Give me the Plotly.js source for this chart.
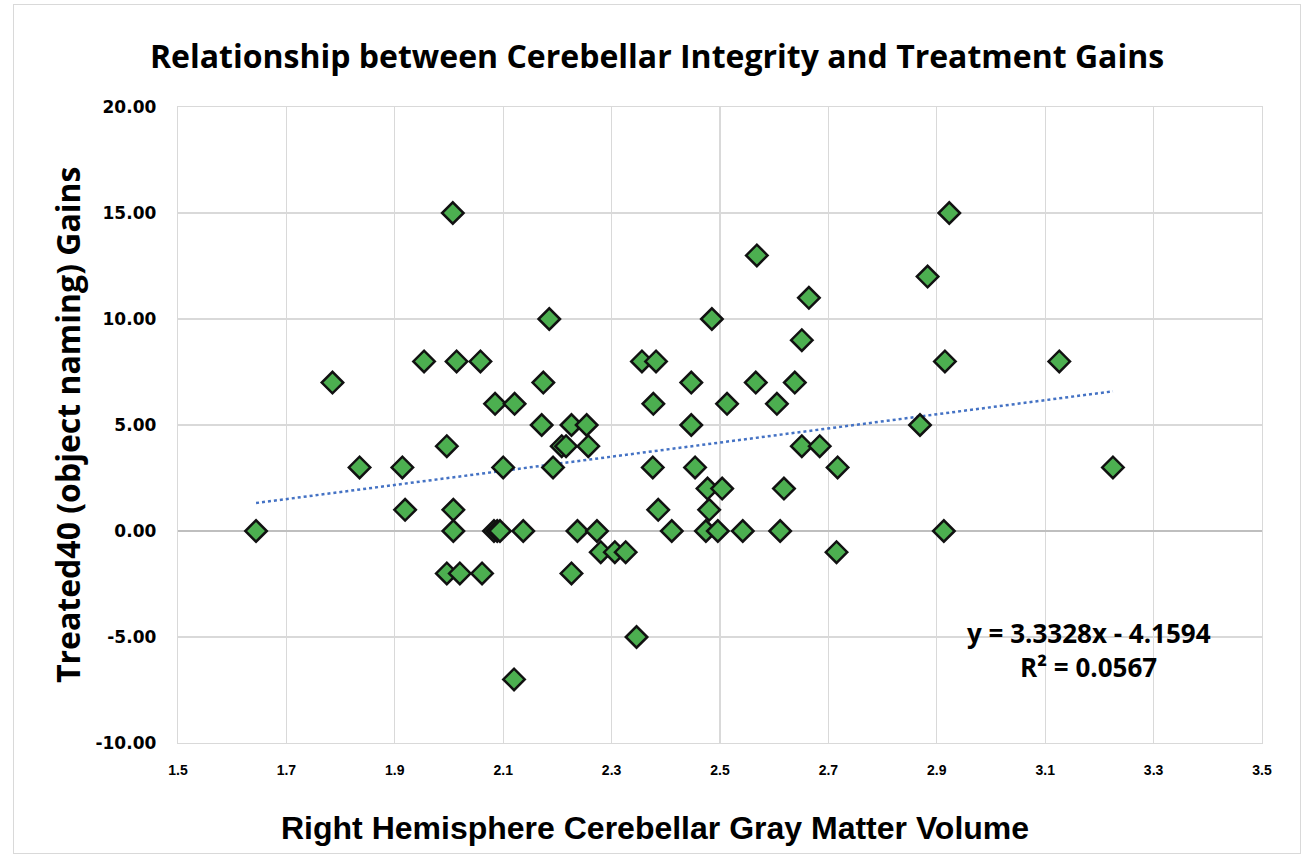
<!DOCTYPE html>
<html>
<head>
<meta charset="utf-8">
<script src="https://cdn.plot.ly/plotly-3.0.1.min.js"></script>
<style>
  html, body { margin: 0; padding: 0; background: #ffffff; }
  #chart { position: absolute; left: 0; top: 0; width: 1314px; height: 865px; }
  #frame { position: absolute; left: 13px; top: 4px; width: 1286px; height: 848px;
           border: 1.5px solid #d9d9d9; pointer-events: none; }
</style>
</head>
<body>
<div id="chart"></div>
<div id="frame"></div>
<script>
// Right hemisphere cerebellar gray matter volume (x) and Treated40 gains (y)
const volumeX = [
  2.007, 2.923, 2.568, 2.883, 2.664, 2.185, 2.485, 2.651,
  1.954, 2.014, 2.058, 2.356, 2.382, 2.915, 3.126,
  1.785, 2.174, 2.447, 2.566, 2.638,
  2.085, 2.121, 2.377, 2.513, 2.605,
  2.171, 2.226, 2.254, 2.447, 2.869,
  1.996, 2.208, 2.216, 2.257, 2.651, 2.684,
  1.835, 1.914, 2.100, 2.192, 2.376, 2.454, 2.717, 3.225,
  2.477, 2.504, 2.618,
  1.919, 2.008, 2.386, 2.480,
  1.644, 2.008, 2.083, 2.089, 2.094, 2.137, 2.237, 2.273, 2.411, 2.474, 2.496, 2.542, 2.611, 2.913,
  2.280, 2.306, 2.326, 2.715,
  1.996, 2.020, 2.061, 2.226,
  2.346, 2.120
];
const gainsY = [
  15, 15, 13, 12, 11, 10, 10, 9,
  8, 8, 8, 8, 8, 8, 8,
  7, 7, 7, 7, 7,
  6, 6, 6, 6, 6,
  5, 5, 5, 5, 5,
  4, 4, 4, 4, 4, 4,
  3, 3, 3, 3, 3, 3, 3, 3,
  2, 2, 2,
  1, 1, 1, 1,
  0, 0, 0, 0, 0, 0, 0, 0, 0, 0, 0, 0, 0, 0,
  -1, -1, -1, -1,
  -2, -2, -2, -2,
  -5, -7
];
// Linear trendline coefficients as printed on the chart
const slope = 3.3328;
const intercept = -4.1594;
const rSquared = 0.0567;

const xTickVals = [1.5, 1.7, 1.9, 2.1, 2.3, 2.5, 2.7, 2.9, 3.1, 3.3, 3.5];
const xTickText = ["1.5", "1.7", "1.9", "2.1", "2.3", "2.5", "2.7", "2.9", "3.1", "3.3", "3.5"];
const yTickVals = [-10, -5, 0, 5, 10, 15, 20];
const yTickText = ["-10.00", "-5.00", "0.00", "5.00", "10.00", "15.00", "20.00"];

const xMin = Math.min(...volumeX);
const xMax = Math.max(...volumeX);
const trendX = [xMin, xMax];
const trendY = trendX.map(v => slope * v + intercept);

const scatter = {
  x: volumeX, y: gainsY, type: 'scatter', mode: 'markers',
  marker: { symbol: 'diamond', size: 16.5, color: '#4caf50',
            line: { color: '#111111', width: 2.5 } },
  hoverinfo: 'x+y', showlegend: false
};
const trend = {
  x: trendX, y: trendY, type: 'scatter', mode: 'lines',
  line: { color: '#4472c4', width: 2.5, dash: 'dot' },
  hoverinfo: 'skip', showlegend: false
};

const boldHead = 'Open Sans, Noto Sans, sans-serif';
const layout = {
  width: 1314, height: 865,
  margin: { l: 178, r: 52, t: 107, b: 122, pad: 0 },
  paper_bgcolor: '#ffffff', plot_bgcolor: '#ffffff',
  title: {
    text: '<b>Relationship between Cerebellar Integrity and Treatment Gains</b>',
    font: { family: boldHead, size: 32, color: '#000000' },
    x: 0.5, xref: 'container', xanchor: 'center',
    y: 1 - 57 / 865, yref: 'container', yanchor: 'middle'
  },
  xaxis: {
    range: [1.5, 3.5], tickmode: 'array', tickvals: xTickVals, ticktext: xTickText,
    showgrid: true, gridcolor: '#d9d9d9', gridwidth: 1.3,
    zeroline: false, showline: true, linecolor: '#d9d9d9', linewidth: 1.3, mirror: true,
    ticks: '', ticklabelstandoff: 14,
    tickfont: { family: 'Liberation Sans Narrow, Liberation Sans, Arial, sans-serif', size: 14, color: '#000000', weight: 'bold' },
    fixedrange: true
  },
  yaxis: {
    range: [-10, 20], tickmode: 'array', tickvals: yTickVals, ticktext: yTickText,
    showgrid: true, gridcolor: '#d9d9d9', gridwidth: 1.3,
    zeroline: true, zerolinecolor: '#bfbfbf', zerolinewidth: 1.5,
    showline: true, linecolor: '#d9d9d9', linewidth: 1.3, mirror: true,
    ticks: '', ticklabelstandoff: 17,
    tickfont: { family: 'DejaVu Sans, Verdana, sans-serif', size: 17, color: '#000000', weight: 'bold' },
    fixedrange: true
  },
  annotations: [
    { text: '<b>Treated40 (object naming) Gains</b>', textangle: -90,
      xref: 'paper', yref: 'paper', x: (67 - 178) / 1084, y: 0.5,
      xanchor: 'center', yanchor: 'middle', showarrow: false,
      font: { family: boldHead, size: 32, color: '#000000' } },
    { text: '<b>Right Hemisphere Cerebellar Gray Matter Volume</b>',
      xref: 'paper', yref: 'paper', x: (655 - 178) / 1084, y: (743 - 828) / 636,
      xanchor: 'center', yanchor: 'middle', showarrow: false,
      font: { family: 'Liberation Sans, Arial, sans-serif', size: 32, color: '#000000' } },
    { text: '<b>y = ' + slope.toFixed(4) + 'x - ' + Math.abs(intercept).toFixed(4) + '</b>',
      xref: 'paper', yref: 'paper', x: (1089 - 178) / 1084, y: (743 - 633) / 636,
      xanchor: 'center', yanchor: 'middle', showarrow: false,
      font: { family: boldHead, size: 26, color: '#000000' } },
    { text: '<b>R² = ' + rSquared.toFixed(4) + '</b>',
      xref: 'paper', yref: 'paper', x: (1088 - 178) / 1084, y: (743 - 667) / 636,
      xanchor: 'center', yanchor: 'middle', showarrow: false,
      font: { family: boldHead, size: 26, color: '#000000' } }
  ]
};

Plotly.newPlot('chart', [trend, scatter], layout, { displayModeBar: false, staticPlot: true });
</script>
</body>
</html>
